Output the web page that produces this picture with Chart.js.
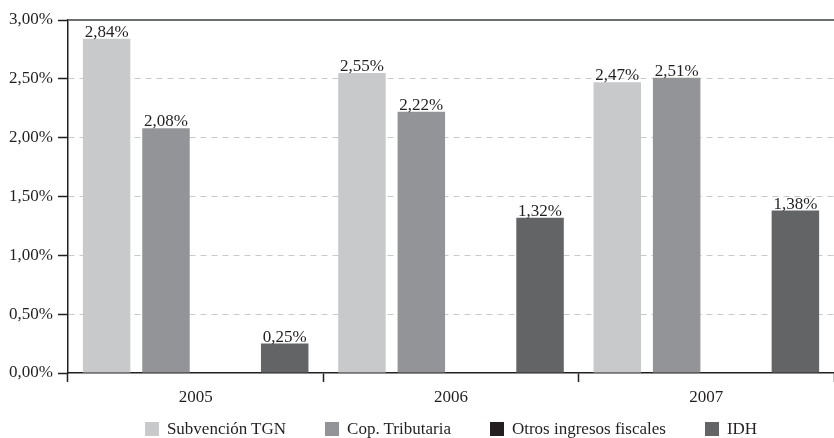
<!DOCTYPE html>
<html>
<head>
<meta charset="utf-8">
<script src="https://cdn.jsdelivr.net/npm/chart.js@4/dist/chart.umd.min.js"></script>
<style>
  html, body { margin: 0; padding: 0; background: #fff; }
  #wrap { width: 834px; height: 438px; position: relative; }
  #legend {
    position: absolute; left: 68px; width: 766px; top: 419px;
    display: flex; justify-content: center; gap: 39px;
    font-family: 'Liberation Serif', 'Times New Roman', serif;
    font-size: 17px; line-height: 20px; color: #231f20;
  }
  #legend span.item { display: flex; align-items: center; }
  #legend span.box { width: 14px; height: 14px; margin-right: 8px; display: inline-block; }
</style>
</head>
<body>
<div id="wrap"><canvas id="aportesChart"></canvas><div id="legend"></div></div>
<script>
// data
const years = ["2005", "2006", "2007"];
const subvencionTGN = [2.84, 2.55, 2.47];
const copTributaria = [2.08, 2.22, 2.51];
const otrosIngresos = [0, 0, 0];
const idh = [0.25, 1.32, 1.38];
const yTicks = [0, 0.5, 1, 1.5, 2, 2.5, 3];

const FONT = "'Liberation Serif', 'Times New Roman', serif";
const TEXT = "#231f20";

function pct(v) {
  return v.toFixed(2).replace(".", ",") + "%";
}

// value labels above each bar
const barLabels = {
  id: "barLabels",
  afterDatasetsDraw(chart) {
    const ctx = chart.ctx;
    ctx.save();
    ctx.font = "17px " + FONT;
    ctx.fillStyle = TEXT;
    ctx.textAlign = "center";
    ctx.textBaseline = "alphabetic";
    chart.data.datasets.forEach((ds, i) => {
      chart.getDatasetMeta(i).data.forEach((bar, j) => {
        const v = ds.data[j];
        if (!v) return;
        ctx.fillText(pct(v), bar.x, bar.y - 2);
      });
    });
    ctx.restore();
  }
};

// solid frame line along the top of the plot
const topLine = {
  id: "topLine",
  afterDraw(chart) {
    const a = chart.chartArea;
    const ctx = chart.ctx;
    ctx.save();
    ctx.strokeStyle = "#6d6e70";
    ctx.lineWidth = 2;
    ctx.beginPath();
    ctx.moveTo(a.left, a.top);
    ctx.lineTo(a.right, a.top);
    ctx.stroke();
    ctx.restore();
  }
};

const chart = new Chart(document.getElementById("aportesChart"), {
  type: "bar",
  data: {
    labels: years,
    datasets: [
      { label: "Subvención TGN", data: subvencionTGN, backgroundColor: "#c8c9cb" },
      { label: "Cop. Tributaria", data: copTributaria, backgroundColor: "#939497" },
      { label: "Otros ingresos fiscales", data: otrosIngresos, backgroundColor: "#231f20" },
      { label: "IDH", data: idh, backgroundColor: "#636466" }
    ]
  },
  options: {
    responsive: true,
    maintainAspectRatio: false,
    animation: false,
    categoryPercentage: 0.93,
    barPercentage: 0.8,
    layout: { padding: { top: 20, right: 0, left: 0, bottom: 35 } },
    plugins: {
      tooltip: { enabled: false },
      legend: { display: false }
    },
    scales: {
      x: {
        afterFit(scale) { scale.height = 30; },
        grid: {
          offset: true,
          drawOnChartArea: false,
          tickLength: 9,
          tickColor: "#231f20",
          tickWidth: 1.5
        },
        border: { color: "#231f20", width: 1.5 },
        ticks: { color: TEXT, padding: 5, font: { family: FONT, size: 17 } }
      },
      y: {
        min: 0,
        max: 3,
        afterFit(scale) { scale.width = 68; },
        afterBuildTicks(scale) { scale.ticks = yTicks.map(v => ({ value: v })); },
        grid: {
          color: ctx => (ctx.tick && (ctx.tick.value === 0 || ctx.tick.value === 3)) ? "rgba(0,0,0,0)" : "#c9c9c9",
          tickColor: "#231f20",
          tickLength: 10,
          tickWidth: 1.5
        },
        border: { color: "#231f20", width: 1.5, dash: [6, 5] },
        ticks: {
          color: TEXT,
          padding: 5,
          font: { family: FONT, size: 17 },
          callback: v => pct(v)
        }
      }
    }
  },
  plugins: [barLabels, topLine]
});

// html legend built from the datasets
const legend = document.getElementById("legend");
chart.data.datasets.forEach(ds => {
  const item = document.createElement("span");
  item.className = "item";
  const box = document.createElement("span");
  box.className = "box";
  box.style.background = ds.backgroundColor;
  item.appendChild(box);
  item.appendChild(document.createTextNode(ds.label));
  legend.appendChild(item);
});
</script>
</body>
</html>
